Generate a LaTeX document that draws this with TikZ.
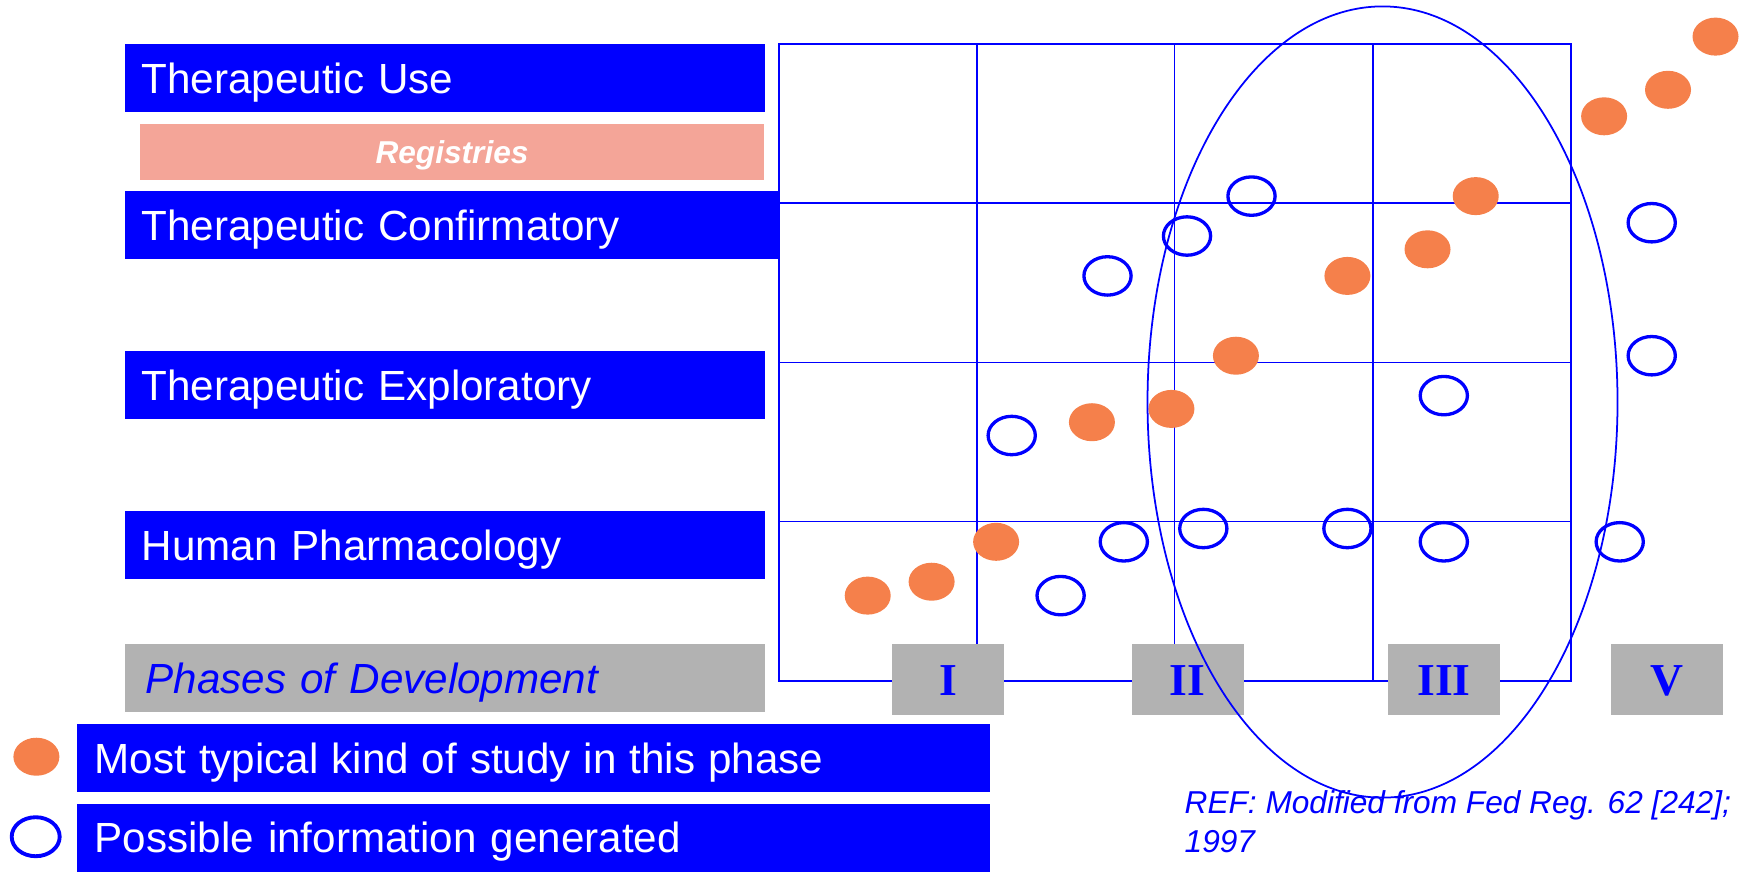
\documentclass[tikz,border=0pt]{standalone}
\usepackage{fontspec}
\setmainfont{Liberation Sans}
\newfontfamily\phasefont{Liberation Serif}
\usetikzlibrary{shapes,positioning}
\definecolor{bandblue}{RGB}{0,0,255}
\definecolor{dotorange}{RGB}{245,128,75}
\definecolor{regsalmon}{RGB}{244,165,152}
\definecolor{phasegray}{RGB}{178,178,178}
\tikzset{
  band/.style={fill=bandblue, text=white, anchor=north west, align=left, inner xsep=0.17cm, inner ysep=0pt,
    text height=0.30cm, text depth=0pt, font=\fontsize{12}{14}\selectfont},
  phasebox/.style={fill=phasegray, text=bandblue, minimum width=1.12cm, minimum height=0.71cm, inner sep=0pt,
    text height=0.31cm, text depth=0pt, font=\phasefont\bfseries\fontsize{13}{15}\selectfont},
  typical/.style={fill=dotorange},
  possible/.style={draw=bandblue, line width=0.94pt},
  gridline/.style={draw=bandblue, line width=0.55pt}
}

\begin{document}
\begin{tikzpicture}
    \useasboundingbox (0,0) rectangle (17.42,-8.71);

    \node[band, text width=6.06cm, minimum height=0.687cm] (tuse) at (1.24,-0.43) {Therapeutic Use};
    \node[fill=regsalmon, text=white, minimum width=6.24cm, minimum height=0.557cm, inner sep=0pt,
      text height=0.226cm, text depth=0pt, font=\bfseries\itshape\fontsize{9}{11}\selectfont] (registries) at (4.52,-1.519) {Registries};
    \node[band, text width=6.21cm, minimum height=0.687cm] (tconf) at (1.24,-1.90) {Therapeutic Confirmatory};
    \node[band, text width=6.06cm, minimum height=0.687cm] (texpl) at (1.24,-3.50) {Therapeutic Exploratory};
    \node[band, text width=6.06cm, minimum height=0.687cm] (hpharm) at (1.24,-5.10) {Human Pharmacology};
    \node[band, fill=phasegray, text=bandblue, font=\itshape\fontsize{12}{14}\selectfont, inner xsep=0.21cm,
      text width=5.98cm, minimum height=0.684cm] (phases) at (1.24,-6.433) {Phases of Development};

    \node[band, inner xsep=0.18cm, text width=8.77cm, minimum height=0.684cm] (legtypical) at (0.76,-7.233)
      {\spaceskip=3.7pt Most typical kind of study in this phase};
    \node[band, inner xsep=0.18cm, text width=8.77cm, minimum height=0.68cm] (legpossible) at (0.76,-8.03) {Possible information generated};
    \fill[typical] (0.364,-7.567) ellipse (0.23cm and 0.19cm);
    \draw[possible, line width=1.1pt] (0.357,-8.367) ellipse (0.24cm and 0.195cm);

    % grid of phases
    \draw[gridline] (7.79,-0.44) rectangle (15.71,-6.81);
    \foreach \x in {9.77,11.745,13.73}
      \draw[gridline] (\x,-0.44) -- (\x,-6.81);
    \foreach \y in {-2.03,-3.625,-5.215}
      \draw[gridline] (7.79,\y) -- (15.71,\y);

    \foreach \x/\y in {8.677/5.956, 9.316/5.817, 9.961/5.418, 10.919/4.222, 11.714/4.089, 12.359/3.557,
      13.474/2.759, 14.275/2.493, 14.757/1.961, 16.041/1.163, 16.680/0.898, 17.155/0.366}
      \fill[typical] (\x,-\y) ellipse (0.23cm and 0.19cm);

    \foreach \x/\y in {11.075/2.759, 11.870/2.360, 12.515/1.961, 10.117/4.355, 10.606/5.956, 11.238/5.418,
      12.033/5.285, 13.474/5.285, 14.438/5.418, 14.438/3.956, 16.517/2.227, 16.517/3.557, 16.197/5.418}
      \draw[possible] (\x,-\y) ellipse (0.236cm and 0.192cm);

    \node[phasebox] (phaseI) at (9.48,-6.795) {I};
    \node[phasebox] (phaseII) at (11.875,-6.795) {II};
    \node[phasebox] (phaseIII) at (14.44,-6.795) {III};
    \node[phasebox] (phaseV) at (16.67,-6.795) {V};

    \draw[bandblue, line width=0.5pt] (13.825,-4.02) ellipse (2.35cm and 3.956cm);

    \node[anchor=north west, inner sep=0pt, align=left, text=bandblue,
      font=\itshape\fontsize{9}{11.1}\selectfont] (ref) at (11.84,-7.90) {REF: Modified from Fed Reg. 62 [242];\\1997};
\end{tikzpicture}
\end{document}
